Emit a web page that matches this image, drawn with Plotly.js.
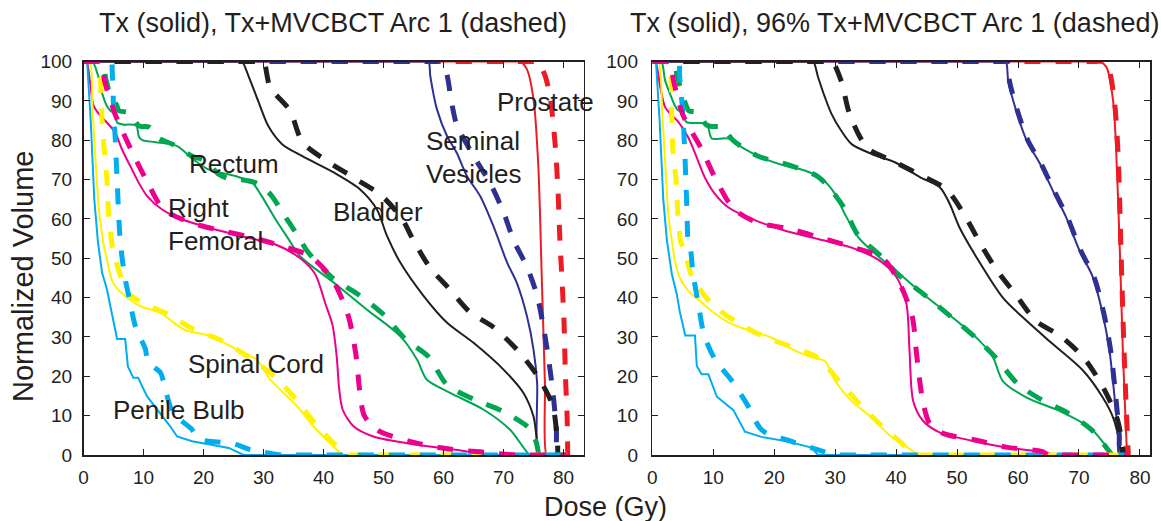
<!DOCTYPE html>
<html>
<head>
<meta charset="utf-8">
<script src="https://cdn.plot.ly/plotly-3.0.1.min.js"></script>
<style>html,body{margin:0;padding:0;background:#fff;}#chart{width:1161px;height:521px;}</style>
</head>
<body>
<div id="chart"></div>
<script>
// ---------------- DATA (dose in Gy, normalized volume in %) ----------------
const panelTitles = ["Tx (solid), Tx+MVCBCT Arc 1 (dashed)", "Tx (solid), 96% Tx+MVCBCT Arc 1 (dashed)"];
const xTitle = "Dose (Gy)";
const yTitle = "Normalized Volume";
const xTicks = [0, 10, 20, 30, 40, 50, 60, 70, 80];
const yTicks = [0, 10, 20, 30, 40, 50, 60, 70, 80, 90, 100];
const structures = ["Prostate", "Seminal Vesicles", "Bladder", "Rectum", "Right Femoral", "Spinal Cord", "Penile Bulb"];

// ---- Left panel: Tx (solid) ----
const L_pro_s_d = [0, 72.0, 72.8, 73.9, 75.0, 75.8, 76.4, 76.9, 77.2, 78, 80];
const L_pro_s_v = [100, 100, 100, 98, 90.4, 73.4, 43.8, 18.3, 0, 0, 0];
const L_sv_s_d = [0, 56.7, 57.5, 57.8, 58.9, 60.6, 62.2, 63.9, 66.1, 68.3, 70.6, 72.2, 73.9, 75.0, 75.6, 75.8, 76.6, 80];
const L_sv_s_v = [100, 100, 100, 96.3, 87.9, 81, 76.8, 70.9, 65.8, 58.2, 48.9, 43.8, 35.3, 26.8, 18.3, 0, 0, 0];
const L_bl_s_d = [0, 25.6, 26.4, 27.5, 29.2, 30.8, 33.1, 36.4, 41.7, 46.1, 48.9, 50.6, 52.8, 56.7, 60.6, 65, 70, 73.3, 75, 76.1, 76.9, 80];
const L_bl_s_v = [100, 100, 100, 96.3, 89.6, 83.6, 79, 76, 71.8, 67.5, 62.4, 55.6, 48.9, 40.4, 33.6, 28.5, 21.7, 15.8, 9.8, 0, 0, 0];
const L_re_s_d = [0, 0.8, 1.5, 2.5, 3.1, 3.9, 4.5, 5.3, 5.6, 6.5, 8.8, 9.2, 9.8, 12, 15.6, 18.3, 20.8, 25.3, 28.1, 29.7, 32, 34.2, 36.1, 41.7, 47.2, 52.8, 55.6, 57.2, 61.1, 66.7, 71.1, 74.4, 75.2, 80];
const L_re_s_v = [100, 100, 100, 96, 92, 88.7, 87.5, 86.5, 84.5, 84, 83.7, 81, 80, 79.5, 78.5, 75.1, 72.6, 70.9, 69.2, 65.8, 59.9, 54.8, 50.5, 43.8, 37, 30.2, 24.2, 19.2, 15.8, 11.5, 6.4, 0, 0, 0];
const L_fe_s_d = [0, 0.5, 1.1, 1.7, 2.8, 3.9, 5.3, 6.4, 7.8, 9.2, 10.6, 13.1, 16.4, 21.95, 27.5, 32, 36.1, 38.6, 40.3, 41.5, 42.2, 42.6, 43.2, 45, 48.3, 55.6, 63.9, 67.2, 68, 80];
const L_fe_s_v = [100, 100, 94.7, 88.7, 86.2, 84.5, 81.9, 77.7, 73.4, 69.2, 65.8, 62.4, 59.9, 57.3, 55.2, 53.5, 50, 46, 38.5, 33, 25, 17, 11.5, 7.3, 4.7, 2.6, 0.9, 0, 0, 0];
const L_sc_s_d = [0, 1.0, 1.5, 2.0, 2.6, 3.3, 3.9, 4.7, 5.5, 6.95, 9.5, 12.8, 16.7, 21.1, 25.6, 28.9, 31.1, 35.6, 38.3, 41.1, 42.8, 43.3, 44.1, 80];
const L_sc_s_v = [100, 100, 88, 75, 62, 54, 49.7, 44.6, 42.5, 40.4, 37.8, 36.1, 31.9, 30.2, 26.8, 24.2, 19.2, 12.4, 7.3, 3, 0.5, 0, 0, 0];
const L_pb_s_d = [0, 0.6, 1.2, 1.8, 2.4, 3.1, 3.9, 4.45, 5.0, 5.6, 6.95, 7.4, 8.3, 9.1, 10.6, 12.8, 14.45, 15.6, 18.1, 24.2, 26.7, 80];
const L_pb_s_v = [100, 100, 85, 65, 54.2, 46.3, 42.1, 37.8, 33.6, 29.5, 29.5, 22.5, 19.6, 19.6, 14.9, 10.7, 7.3, 4.7, 3.5, 1.8, 0, 0];

// ---- Left panel: Tx+MVCBCT Arc 1 (dashed) ----
const L_pro_d_d = [0, 74.8, 75.6, 76.9, 77.8, 78.6, 79.1, 79.4, 79.8, 80.1, 80.3, 80.6, 80.7];
const L_pro_d_v = [100, 100, 100, 96.5, 90.5, 79, 66.5, 54.5, 43, 33, 21, 9.5, 0];
const L_sv_d_d = [0, 58.6, 59.4, 60.5, 61.3, 62.2, 65, 67.8, 70, 71.7, 74, 75.6, 76.6, 77.5, 78.3, 78.8, 79.1, 80.6];
const L_sv_d_v = [100, 100, 100, 97, 90, 84, 76, 69, 61.7, 54.5, 47.5, 40.5, 33, 24.5, 15, 6.7, 0, 0];
const L_bl_d_d = [0, 29.2, 30, 31.1, 34.4, 36.5, 40.3, 45, 49.6, 53.1, 55, 57.8, 60.8, 64.4, 68.3, 72.4, 75.7, 78.2, 79, 79.2, 80.6];
const L_bl_d_v = [100, 100, 100, 93.5, 87.5, 79.5, 75, 70.5, 66, 60, 54.5, 47.5, 42.5, 36.3, 32.5, 26.5, 20, 12.5, 3, 0, 0];
const L_re_d_d = [0, 2.2, 3.0, 3.8, 4.6, 5.5, 5.9, 7.5, 9.0, 9.5, 11.0, 12.5, 14.8, 18.3, 20.0, 22.6, 24.1, 27.0, 29.0, 31.3, 33.0, 35.8, 37.3, 41.5, 45.6, 50.0, 53.6, 57.5, 60.6, 65.3, 70.0, 74.5, 75.5, 76.0, 76.8, 80.6];
const L_re_d_v = [100, 100, 100, 95, 91, 89, 87.5, 87, 84, 83.5, 83.3, 80.5, 79, 75.8, 75, 71.3, 70.3, 69.8, 69, 66, 62, 55.5, 51.8, 45, 41, 35.7, 29.5, 25, 17.8, 14, 11, 6.5, 3, 0, 0, 0];
const L_fe_d_d = [0, 2.0, 2.8, 3.6, 5.3, 7.8, 10.6, 13.3, 18, 23, 28, 33.3, 37.8, 41.4, 44.1, 45.4, 46.1, 46.8, 49, 54.5, 61, 66, 72, 72.8, 80.6];
const L_fe_d_v = [100, 100, 100, 94.5, 86.5, 78, 69.5, 62.5, 59, 57, 55.3, 53, 50.5, 44.8, 35.5, 25.5, 15.5, 10, 6.3, 3.4, 1.5, 0.8, 0, 0, 0];
const L_sc_d_d = [0, 1.7, 2.5, 2.8, 3.1, 3.5, 3.9, 4.2, 4.7, 5.2, 6.3, 7.5, 9.45, 13.9, 18.3, 23.1, 27.2, 31.4, 35, 38.3, 41.7, 43.5, 44, 44.8, 80.6];
const L_sc_d_v = [100, 100, 100, 96, 85, 77, 70, 61, 54, 50.5, 45, 41, 39, 35.9, 32, 29, 25.2, 20.5, 14.9, 8.6, 3.0, 0.8, 0, 0, 0];
const L_pb_d_d = [0, 3.8, 4.6, 4.8, 5.0, 5.3, 5.6, 6.1, 6.8, 7.6, 8.6, 9.4, 10.3, 10.8, 12.8, 13.3, 14.1, 14.9, 18, 19.4, 22.5, 24.8, 27.5, 29.8, 33, 33.8, 80.6];
const L_pb_d_v = [100, 100, 100, 97, 89, 80, 70, 55, 46, 40, 33, 30, 27, 23.5, 21, 18.8, 14.1, 10.7, 6.6, 4, 3.3, 3.0, 1.5, 0.8, 0, 0, 0];

// ---- Right panel: Tx (solid) ----
const R_pro_s_d = [0, 72.6, 73.4, 74.5, 75.6, 76.1, 76.7, 77.2, 77.8, 77.9];
const R_pro_s_v = [100, 100, 100, 98.6, 90, 77.4, 51.9, 26.5, 3, 0];
const R_sv_s_d = [0, 57.2, 58.0, 58.4, 59.7, 61.4, 63.6, 65.7, 67.9, 70.1, 72.3, 73.9, 75.0, 75.9, 76.4, 76.6, 78];
const R_sv_s_v = [100, 100, 100, 95, 87.5, 80, 74, 67.2, 60.4, 51.9, 45.1, 35.8, 26.5, 13.7, 5.3, 0, 0];
const R_bl_s_d = [0, 25.6, 26.4, 27.2, 28.3, 29.4, 31, 32.7, 36, 39.8, 43.9, 47.2, 48.8, 50.4, 53.2, 57.5, 61.4, 65.7, 70.7, 73.9, 75.6, 76.7, 76.9, 78];
const R_bl_s_v = [100, 100, 100, 96, 91, 86.7, 82.4, 79, 76.5, 74.4, 70.6, 68, 63.8, 57.8, 50.2, 40, 34.1, 28.2, 21.4, 14.6, 9.5, 2.7, 0, 0];
const R_re_s_d = [0, 0.8, 1.5, 2.1, 2.9, 3.7, 4.2, 5.0, 5.6, 8.9, 9.5, 9.8, 12.5, 14.7, 17.9, 21.8, 25, 27.8, 30, 31.6, 33.8, 36, 37.3, 40.6, 44.4, 49.3, 53.7, 55.9, 57.5, 61.4, 66.8, 71.8, 75, 75.2, 76, 78];
const R_re_s_v = [100, 100, 100, 95.2, 91.8, 88.8, 87.6, 87, 84.6, 84.1, 81.2, 80.4, 80.4, 78.2, 75.6, 73.5, 72.3, 70.2, 66.3, 61.2, 55.3, 51.9, 50.2, 46, 40.9, 34.9, 29, 24.8, 18.8, 14.6, 11.2, 6.9, 1, 0, 0, 0];
const R_fe_s_d = [0, 0.5, 1.3, 2.1, 3.2, 4.3, 5.9, 7.3, 8.6, 10.3, 12.5, 16.3, 21.8, 27.2, 32.7, 37.3, 40.1, 41.7, 42.2, 42.8, 44.4, 47.2, 52.6, 58.1, 64.7, 66, 66.8, 78];
const R_fe_s_v = [100, 100, 93.5, 88.4, 86.3, 84.6, 80.7, 75.6, 70.6, 66.3, 62.9, 60, 57, 54.9, 52.7, 49.4, 45.1, 38.3, 26.5, 13.7, 8.7, 5.7, 3.6, 1.9, 0.6, 0, 0, 0];
const R_sc_s_d = [0, 1.0, 1.6, 2.2, 2.7, 3.2, 3.7, 4.5, 5.9, 7.5, 9.7, 13, 15.2, 19.6, 23.4, 26.1, 28.3, 30, 32.7, 36, 38.7, 40.6, 42.8, 43.5, 44.3, 78];
const R_sc_s_v = [100, 100, 88, 72, 60, 54.5, 49.4, 45.1, 41.7, 39.6, 36.6, 33.3, 32, 29.8, 26.5, 24.8, 23.9, 18.8, 13.7, 9.5, 5.3, 3.2, 1, 0, 0, 0];
const R_pb_s_d = [0, 0.6, 1.2, 1.8, 2.4, 3.2, 4.0, 4.5, 5.4, 7.0, 7.3, 8.1, 9.2, 10.6, 13.3, 15.2, 17.9, 22.3, 26.1, 27.2, 78];
const R_pb_s_v = [100, 100, 85, 65, 54.5, 46, 41, 36.5, 30.4, 30.4, 22.6, 20.5, 20.5, 14.8, 11.4, 5.9, 4.6, 3.4, 1.9, 0, 0];

// ---- Right panel: 96% Tx+MVCBCT Arc 1 (dashed) ----
const R_pro_d_d = [0, 72.8, 73.6, 74.8, 75.8, 76.4, 76.9, 77.4, 78.0, 78.1];
const R_pro_d_v = [100, 100, 100, 98.3, 90, 77, 51.5, 26, 3, 0];
const R_sv_d_d = [0, 57.4, 58.2, 58.6, 59.9, 61.6, 63.8, 65.9, 68.1, 70.3, 72.5, 74.1, 75.2, 76.1, 76.6, 76.8, 78];
const R_sv_d_v = [100, 100, 100, 95, 87.5, 80, 74, 67.2, 60.4, 51.9, 45.1, 35.8, 26.5, 13.7, 5.3, 0, 0];
const R_bl_d_d = [0, 28.7, 29.5, 31, 32.4, 35.3, 39.3, 43.9, 48.3, 51.4, 53.9, 56.6, 59.5, 63, 67, 70.9, 74.2, 76.3, 77.2, 77.4, 78];
const R_bl_d_v = [100, 100, 100, 95, 86.5, 78, 74.8, 71.2, 67.4, 60.5, 53.5, 46.8, 41, 34, 30.2, 24.5, 16.5, 9, 2, 0, 0];
const R_re_d_d = [0, 2.7, 3.5, 4.0, 4.5, 5.5, 6.0, 7.5, 8.8, 9.6, 11.5, 13.2, 17.3, 22.6, 27.3, 31.4, 33.7, 37.5, 40.6, 44.4, 49.1, 52.9, 56.2, 60, 63.9, 67.8, 72, 75.2, 75.5, 76.3, 78];
const R_re_d_v = [100, 100, 100, 97, 94, 89, 87.5, 87, 84, 83.5, 83.3, 80, 76, 73.6, 70.6, 63, 56, 50.5, 45.5, 41, 35, 30, 25, 18, 14, 11, 6.5, 0.5, 0, 0, 0];
const R_fe_d_d = [0, 2.0, 2.8, 3.5, 5.0, 8.0, 10.6, 13.4, 17.3, 22.2, 27.2, 32.4, 37.8, 40.3, 42.6, 43.4, 44.4, 45.5, 47.7, 53, 58, 63.9, 65, 65.8, 78];
const R_fe_d_v = [100, 100, 100, 95, 86.5, 78, 69.5, 62.5, 59, 57.6, 55.4, 53, 50, 44.5, 35.5, 25, 13.5, 8, 5.5, 3.8, 2, 0.9, 0, 0, 0];
const R_sc_d_d = [0, 1.8, 2.6, 3.1, 3.2, 3.4, 3.9, 4.2, 4.7, 5.2, 6.4, 9.5, 13.6, 18, 22.6, 27.2, 30.3, 33.6, 37.3, 40.9, 42.5, 43, 43.8, 78];
const R_sc_d_v = [100, 100, 100, 94.5, 85.7, 77, 69.8, 61.3, 54, 52.5, 45.8, 38.8, 34, 30.3, 27.6, 24.7, 19.4, 13.7, 7.9, 3, 0.5, 0, 0, 0];
const R_pb_d_d = [0, 3.5, 4.3, 4.5, 5.0, 5.3, 5.5, 5.7, 5.9, 6.2, 6.7, 7.6, 8.5, 10.4, 13, 15.5, 18, 22.7, 27.5, 30, 30.8, 78];
const R_pb_d_v = [100, 100, 100, 96, 87, 78, 70, 61.5, 54, 53, 46, 38, 30.5, 24, 19, 13, 6.3, 3.5, 1.2, 0, 0, 0];

// ---------------- STYLE ----------------
const COL = {pro: '#ed1c24', sv: '#2e3192', bl: '#231f20', re: '#00a651', fe: '#ec008c', sc: '#fff200', pb: '#00aeef'};
const FONT = '"Liberation Sans", Arial, Helvetica, sans-serif';
const TXT = '#231f20';

function tr(x, y, color, dashed, panel, linear) {
  return {
    type: 'scatter', mode: 'lines', x: x, y: y,
    xaxis: panel === 0 ? 'x' : 'x2', yaxis: panel === 0 ? 'y' : 'y2',
    line: {color: color, width: dashed ? 5 : 2, dash: dashed ? '16px,15px' : 'solid',
      shape: linear ? 'linear' : 'spline', smoothing: 0.8},
    cliponaxis: false, hoverinfo: 'skip', showlegend: false
  };
}

const traces = [
  // left solids
  tr(L_pro_s_d, L_pro_s_v, COL.pro, false, 0),
  tr(L_sv_s_d, L_sv_s_v, COL.sv, false, 0),
  tr(L_bl_s_d, L_bl_s_v, COL.bl, false, 0),
  tr(L_re_s_d, L_re_s_v, COL.re, false, 0),
  tr(L_fe_s_d, L_fe_s_v, COL.fe, false, 0),
  tr(L_sc_s_d, L_sc_s_v, COL.sc, false, 0),
  tr(L_pb_s_d, L_pb_s_v, COL.pb, false, 0, true),
  // right solids
  tr(R_pro_s_d, R_pro_s_v, COL.pro, false, 1),
  tr(R_sv_s_d, R_sv_s_v, COL.sv, false, 1),
  tr(R_bl_s_d, R_bl_s_v, COL.bl, false, 1),
  tr(R_re_s_d, R_re_s_v, COL.re, false, 1),
  tr(R_fe_s_d, R_fe_s_v, COL.fe, false, 1),
  tr(R_sc_s_d, R_sc_s_v, COL.sc, false, 1),
  tr(R_pb_s_d, R_pb_s_v, COL.pb, false, 1, true),
  // left dashed
  tr(L_pro_d_d, L_pro_d_v, COL.pro, true, 0),
  tr(L_sv_d_d, L_sv_d_v, COL.sv, true, 0),
  tr(L_bl_d_d, L_bl_d_v, COL.bl, true, 0),
  tr(L_re_d_d, L_re_d_v, COL.re, true, 0),
  tr(L_sc_d_d, L_sc_d_v, COL.sc, true, 0),
  tr(L_pb_d_d, L_pb_d_v, COL.pb, true, 0),
  tr(L_fe_d_d, L_fe_d_v, COL.fe, true, 0),
  // right dashed
  tr(R_pro_d_d, R_pro_d_v, COL.pro, true, 1),
  tr(R_sv_d_d, R_sv_d_v, COL.sv, true, 1),
  tr(R_bl_d_d, R_bl_d_v, COL.bl, true, 1),
  tr(R_re_d_d, R_re_d_v, COL.re, true, 1),
  tr(R_sc_d_d, R_sc_d_v, COL.sc, true, 1),
  tr(R_pb_d_d, R_pb_d_v, COL.pb, true, 1),
  tr(R_fe_d_d, R_fe_d_v, COL.fe, true, 1)
];

const W = 1161, H = 521;
const px = v => v / W;
const py = v => (H - v) / H;

function xax(domain, range) {
  return {
    domain: domain, range: range, autorange: false,
    tickmode: 'array', tickvals: xTicks, ticktext: xTicks.map(String),
    ticks: 'inside', ticklen: 6, tickwidth: 1, tickcolor: TXT,
    showline: true, linecolor: TXT, linewidth: 1.5, mirror: 'ticks',
    showgrid: false, zeroline: false,
    tickfont: {family: FONT, size: 19, color: TXT}, ticklabelstandoff: 5
  };
}
function yax(domain, anchor, standoff) {
  return {
    domain: domain, range: [0, 100], autorange: false, anchor: anchor,
    tickmode: 'array', tickvals: yTicks, ticktext: yTicks.map(String),
    ticks: 'inside', ticklen: 6, tickwidth: 1, tickcolor: TXT,
    showline: true, linecolor: TXT, linewidth: 1.5, mirror: 'ticks',
    showgrid: false, zeroline: false,
    tickfont: {family: FONT, size: 19, color: TXT}, ticklabelstandoff: standoff
  };
}

const yDom = [py(455), py(61.5)];
const lab = (text, x, y) => ({text: text, x: x, y: y, xref: 'x', yref: 'y', xanchor: 'left', yanchor: 'middle',
  showarrow: false, font: {family: FONT, size: 26, color: TXT}});

const layout = {
  width: W, height: H,
  margin: {l: 0, r: 0, t: 0, b: 0},
  paper_bgcolor: '#ffffff', plot_bgcolor: '#ffffff',
  showlegend: false,
  xaxis: Object.assign(xax([px(83.5), px(583.5)], [0, 83.33]), {anchor: 'y'}),
  yaxis: yax(yDom, 'x', 6),
  xaxis2: Object.assign(xax([px(652.3), px(1150)], [0, 81.65]), {anchor: 'y2'}),
  yaxis2: yax(yDom, 'x2', 9),
  annotations: [
    {text: panelTitles[0], x: px(332.6), y: py(23), xref: 'paper', yref: 'paper', xanchor: 'center', yanchor: 'middle',
      showarrow: false, font: {family: FONT, size: 27, color: TXT}},
    {text: panelTitles[1], x: px(894), y: py(23), xref: 'paper', yref: 'paper', xanchor: 'center', yanchor: 'middle',
      showarrow: false, font: {family: FONT, size: 27, color: TXT}},
    {text: xTitle, x: px(605.5), y: py(507), xref: 'paper', yref: 'paper', xanchor: 'center', yanchor: 'middle',
      showarrow: false, font: {family: FONT, size: 27, color: TXT}},
    {text: yTitle, x: px(22.5), y: py(276.5), xref: 'paper', yref: 'paper', xanchor: 'center', yanchor: 'middle',
      textangle: -90, showarrow: false, font: {family: FONT, size: 29, color: TXT}},
    lab(structures[0], 68.6, 89.7),
    lab("Seminal", 56.8, 79.8),
    lab("Vesicles", 56.8, 71.4),
    lab(structures[2], 41.3, 61.75),
    lab(structures[3], 17.3, 74),
    lab("Right", 13.8, 62.8),
    lab("Femoral", 13.8, 54.4),
    lab(structures[5], 17.1, 23.1),
    lab(structures[6], 4.6, 11.4)
  ]
};

Plotly.newPlot('chart', traces, layout, {staticPlot: true, displayModeBar: false});
</script>
</body>
</html>
